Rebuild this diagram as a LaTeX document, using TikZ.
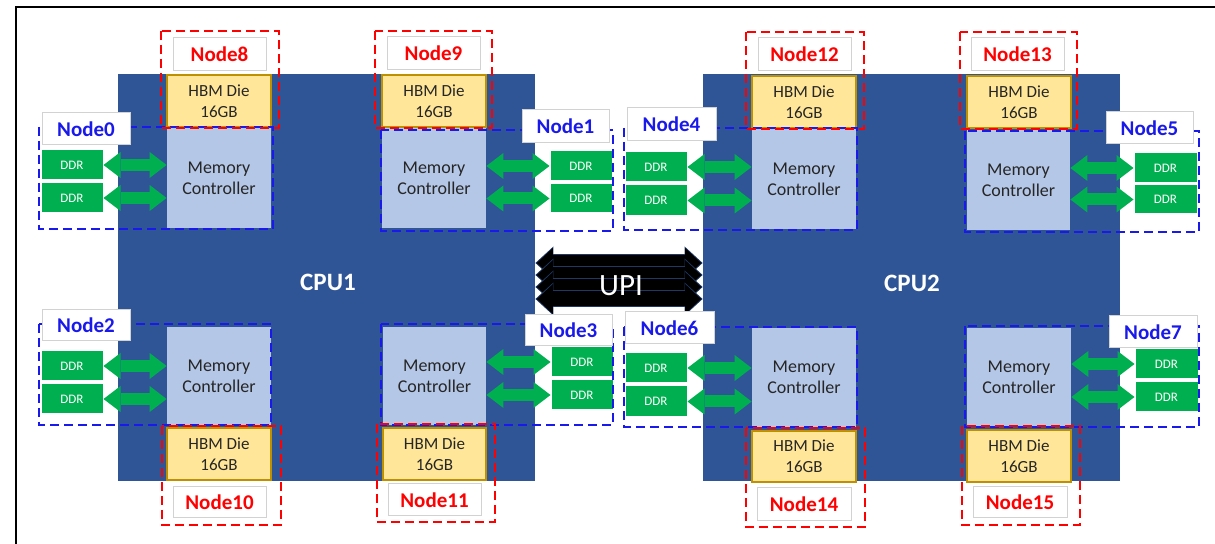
\documentclass[tikz,border=0pt]{standalone}
\usepackage{fontspec}
\setmainfont{Carlito}
\usetikzlibrary{arrows.meta}

\definecolor{cpublue}{RGB}{47,85,151}
\definecolor{mcfill}{RGB}{180,199,231}
\definecolor{hbmfill}{RGB}{255,230,153}
\definecolor{hbmedge}{RGB}{191,144,0}
\definecolor{ddrgreen}{RGB}{0,176,80}
\definecolor{numablue}{RGB}{25,25,235}
\definecolor{numared}{RGB}{255,0,0}
\definecolor{tagedge}{RGB}{210,210,210}
\definecolor{darktext}{RGB}{38,38,38}
\definecolor{upiedge}{RGB}{31,56,100}

\tikzset{
  % 左上 (x1,y1) と右下 (x2,y2) で箱を置く
  pxbox/.style n args={4}{at={({(#1+#3)/2},{(#2+#4)/2})},
    minimum width={(#3-#1)*0.5pt}, minimum height={(#4-#2)*0.5pt}},
  cpu/.style={fill=cpublue, draw=none, inner sep=0pt},
  cpuname/.style={text=white, font=\bfseries\fontsize{12.5}{14}\selectfont},
  hbm/.style={fill=hbmfill, draw=hbmedge, line width=0.6pt, inner sep=0pt,
    align=center, text=darktext, font=\fontsize{8.5}{10.5}\selectfont},
  mctrl/.style={fill=mcfill, draw=none, inner sep=0pt,
    align=center, text=darktext, font=\fontsize{9}{10.5}\selectfont},
  ddr/.style={fill=ddrgreen, draw=white, line width=0.5pt, inner sep=0pt,
    text=white, font=\fontsize{6.5}{7}\selectfont},
  tagbox/.style={fill=white, draw=tagedge, line width=0.5pt, inner sep=0pt,
    font=\bfseries\fontsize{10.5}{12}\selectfont},
  bluetag/.style={tagbox, text=numablue},
  redtag/.style={tagbox, text=numared},
  bluezone/.style={draw=numablue, line width=1.2pt, dash pattern=on 4.5pt off 2.5pt},
  redzone/.style={draw=numared, line width=1.2pt, dash pattern=on 4.5pt off 2.5pt},
  ddrlink/.style={draw=ddrgreen, line width=6pt,
    {Triangle[length=8.5pt,width=13pt,line width=0pt]}-{Triangle[length=8.5pt,width=13pt,line width=0pt]}},
  upiedge/.style={draw=upiedge, line width=8.5pt,
    {Triangle[length=9pt,width=16.5pt,line width=0pt]}-{Triangle[length=9pt,width=16.5pt,line width=0pt]}},
  upibody/.style={draw=black, line width=7.5pt, shorten <=0.75pt, shorten >=0.75pt,
    {Triangle[length=8pt,width=15pt,line width=0pt]}-{Triangle[length=8pt,width=15pt,line width=0pt]}},
}

\begin{document}
\begin{tikzpicture}[x=0.5pt,y=-0.5pt]
  \useasboundingbox (0,0) rectangle (1215,544);
  % 外枠
  \draw[line width=1.25pt] (16,544) -- (16,7) -- (1215,7);

  % CPU
  \node[cpu, pxbox={118}{74}{535}{481}] (cpu1) {};
  \node[cpu, pxbox={703}{74}{1120}{481}] (cpu2) {};
  \node[cpuname] (cpu1name) at (328,282) {CPU1};
  \node[cpuname] (cpu2name) at (912,283) {CPU2};

  % CPU1 左上 (Node0, Node8)
  \node[hbm, pxbox={167}{75}{271}{127}] (hbm8) {HBM Die\\16GB};
  \node[mctrl, pxbox={167}{128}{271}{228}] (mc0) {Memory\\Controller};
  \node[ddr, pxbox={41}{150}{103}{180}] (ddr0a) {DDR};
  \node[ddr, pxbox={41}{183}{103}{213}] (ddr0b) {DDR};
  \draw[ddrlink] (ddr0a.east) -- (mc0.west |- ddr0a.east);
  \draw[ddrlink] (ddr0b.east) -- (mc0.west |- ddr0b.east);

  % CPU1 右上 (Node1, Node9)
  \node[hbm, pxbox={382}{75}{486}{127}] (hbm9) {HBM Die\\16GB};
  \node[mctrl, pxbox={382}{128}{486}{228}] (mc1) {Memory\\Controller};
  \node[ddr, pxbox={550}{151}{612}{181}] (ddr1a) {DDR};
  \node[ddr, pxbox={550}{184}{612}{213}] (ddr1b) {DDR};
  \draw[ddrlink] (ddr1a.west) -- (mc1.east |- ddr1a.west);
  \draw[ddrlink] (ddr1b.west) -- (mc1.east |- ddr1b.west);

  % CPU1 左下 (Node2, Node10)
  \node[mctrl, pxbox={167}{327}{271}{425}] (mc2) {Memory\\Controller};
  \node[hbm, pxbox={167}{428}{271}{480}] (hbm10) {HBM Die\\16GB};
  \node[ddr, pxbox={41}{351}{103}{381}] (ddr2a) {DDR};
  \node[ddr, pxbox={41}{384}{103}{414}] (ddr2b) {DDR};
  \draw[ddrlink] (ddr2a.east) -- (mc2.west |- ddr2a.east);
  \draw[ddrlink] (ddr2b.east) -- (mc2.west |- ddr2b.east);

  % CPU1 右下 (Node3, Node11)
  \node[mctrl, pxbox={383}{327}{486}{425}] (mc3) {Memory\\Controller};
  \node[hbm, pxbox={383}{428}{486}{480}] (hbm11) {HBM Die\\16GB};
  \node[ddr, pxbox={551}{347}{613}{377}] (ddr3a) {DDR};
  \node[ddr, pxbox={551}{380}{613}{410}] (ddr3b) {DDR};
  \draw[ddrlink] (ddr3a.west) -- (mc3.east |- ddr3a.west);
  \draw[ddrlink] (ddr3b.west) -- (mc3.east |- ddr3b.west);

  % CPU2 左上 (Node4, Node12)
  \node[hbm, pxbox={752}{76}{856}{128}] (hbm12) {HBM Die\\16GB};
  \node[mctrl, pxbox={752}{129}{856}{229}] (mc4) {Memory\\Controller};
  \node[ddr, pxbox={625}{152}{687}{182}] (ddr4a) {DDR};
  \node[ddr, pxbox={625}{185}{687}{216}] (ddr4b) {DDR};
  \draw[ddrlink] (ddr4a.east) -- (mc4.west |- ddr4a.east);
  \draw[ddrlink] (ddr4b.east) -- (mc4.west |- ddr4b.east);

  % CPU2 右上 (Node5, Node13)
  \node[hbm, pxbox={967}{76}{1071}{128}] (hbm13) {HBM Die\\16GB};
  \node[mctrl, pxbox={967}{130}{1070}{230}] (mc5) {Memory\\Controller};
  \node[ddr, pxbox={1134}{153}{1197}{183}] (ddr5a) {DDR};
  \node[ddr, pxbox={1134}{185}{1197}{214}] (ddr5b) {DDR};
  \draw[ddrlink] (ddr5a.west) -- (mc5.east |- ddr5a.west);
  \draw[ddrlink] (ddr5b.west) -- (mc5.east |- ddr5b.west);

  % CPU2 左下 (Node6, Node14)
  \node[mctrl, pxbox={752}{328}{856}{427}] (mc6) {Memory\\Controller};
  \node[hbm, pxbox={752}{431}{856}{482}] (hbm14) {HBM Die\\16GB};
  \node[ddr, pxbox={625}{353}{687}{383}] (ddr6a) {DDR};
  \node[ddr, pxbox={625}{386}{687}{417}] (ddr6b) {DDR};
  \draw[ddrlink] (ddr6a.east) -- (mc6.west |- ddr6a.east);
  \draw[ddrlink] (ddr6b.east) -- (mc6.west |- ddr6b.east);

  % CPU2 右下 (Node7, Node15)
  \node[mctrl, pxbox={967}{328}{1071}{427}] (mc7) {Memory\\Controller};
  \node[hbm, pxbox={967}{430}{1071}{482}] (hbm15) {HBM Die\\16GB};
  \node[ddr, pxbox={1135}{349}{1198}{379}] (ddr7a) {DDR};
  \node[ddr, pxbox={1135}{382}{1198}{412}] (ddr7b) {DDR};
  \draw[ddrlink] (ddr7a.west) -- (mc7.east |- ddr7a.west);
  \draw[ddrlink] (ddr7b.west) -- (mc7.east |- ddr7b.west);

  % UPI
  \foreach \y in {263,275,287,299}{
    \draw[upiedge] (cpu1.east |- 0,\y) -- (cpu2.west |- 0,\y);
    \draw[upibody] (cpu1.east |- 0,\y) -- (cpu2.west |- 0,\y);
  }
  \node[text=white, font=\fontsize{15.5}{17}\selectfont] (upi) at (621,286) {UPI};

  % DDR の NUMA ノード (青点線)
  \draw[bluezone] (39,127) rectangle (273,229);
  \draw[bluezone] (381,130) rectangle (613,231);
  \draw[bluezone] (39,324) rectangle (271,425);
  \draw[bluezone] (381,324) rectangle (613,425);
  \draw[bluezone] (624,128) rectangle (857,230);
  \draw[bluezone] (965,131) rectangle (1199,232);
  \draw[bluezone] (624,327) rectangle (857,427);
  \draw[bluezone] (965,326) rectangle (1199,427);
  % HBM の NUMA ノード (赤点線)
  \draw[redzone] (161,31) rectangle (279,128);
  \draw[redzone] (375,31) rectangle (492,128);
  \draw[redzone] (162,426) rectangle (281,525);
  \draw[redzone] (377,424) rectangle (495,522);
  \draw[redzone] (746,32) rectangle (864,129);
  \draw[redzone] (960,32) rectangle (1077,129);
  \draw[redzone] (746,428) rectangle (865,527);
  \draw[redzone] (962,426) rectangle (1080,525);

  % ノード番号
  \node[bluetag, pxbox={42}{113}{130}{145}] (t0) {Node0};
  \node[bluetag, pxbox={522}{110}{609}{143}] (t1) {Node1};
  \node[bluetag, pxbox={42}{310}{130}{341}] (t2) {Node2};
  \node[bluetag, pxbox={525}{315}{612}{346}] (t3) {Node3};
  \node[bluetag, pxbox={627}{108}{716}{141}] (t4) {Node4};
  \node[bluetag, pxbox={1106}{112}{1193}{144}] (t5) {Node5};
  \node[bluetag, pxbox={625}{312}{714}{344}] (t6) {Node6};
  \node[bluetag, pxbox={1109}{316}{1197}{348}] (t7) {Node7};
  \node[redtag, pxbox={173}{38}{266}{71}] (t8) {Node8};
  \node[redtag, pxbox={387}{37}{480}{70}] (t9) {Node9};
  \node[redtag, pxbox={173}{487}{266}{518}] (t10) {Node10};
  \node[redtag, pxbox={388}{484}{481}{516}] (t11) {Node11};
  \node[redtag, pxbox={758}{38}{851}{71}] (t12) {Node12};
  \node[redtag, pxbox={971}{38}{1064}{71}] (t13) {Node13};
  \node[redtag, pxbox={757}{488}{851}{521}] (t14) {Node14};
  \node[redtag, pxbox={973}{487}{1067}{518}] (t15) {Node15};
\end{tikzpicture}
\end{document}
